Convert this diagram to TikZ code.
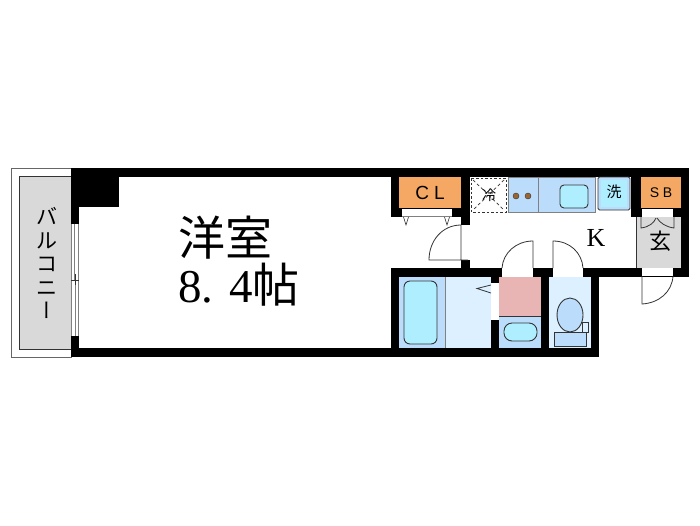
\documentclass[tikz,border=0pt]{standalone}
\usepackage{xcolor}
\usepackage{fontspec}
\setmainfont{Liberation Serif}
\newfontfamily\cjk{Noto Sans CJK JP}
\newfontfamily\cjkv[RawFeature=+vert]{Noto Sans CJK JP}
\newfontfamily\labelfont{Liberation Sans}
\definecolor{closetorange}{HTML}{F5A864}
\definecolor{floorgray}{HTML}{D9D9D9}
\definecolor{wetblue}{HTML}{BBDDFB}
\definecolor{wetpale}{HTML}{DDF0FF}
\definecolor{fixcyan}{HTML}{AEEEFF}
\definecolor{washpink}{HTML}{E8B4B4}
\definecolor{linegray}{HTML}{333333}
\tikzset{
    wall/.style={fill=black, draw=none},
    gap/.style={fill=white, draw=none},
    fixture/.style={draw=linegray, line width=0.9pt},
    doorline/.style={draw=linegray, line width=0.8pt},
    thinline/.style={draw=gray, line width=0.5pt},
}
\begin{document}
\begin{tikzpicture}[x=1pt, y=-1pt]
    \useasboundingbox (0,0) rectangle (700,525);
    \fill[white] (0,0) rectangle (700,525);

    % Balcony
    \draw[thinline, draw=gray!80!black, line width=0.8pt] (11,168) rectangle (71,357);
    \draw[fill=floorgray, draw=linegray, line width=0.7pt] (19,176) rectangle (71,349);
    \node[font=\cjk\fontsize{21}{23.5}\selectfont, align=center, inner sep=0pt] (balcony) at (47,263)
        {バ\\ル\\コ\\ニ\\{\cjkv ー}};

    % Entrance floor and wet areas
    \fill[floorgray] (636,217) rectangle (681,268);
    \draw[thinline, draw=linegray] (636,217) -- (636,268);
    \fill[wetblue] (399,277) rectangle (445,348);
    \fill[wetpale] (445,277) rectangle (491,348);
    \draw[thinline] (445,277) -- (445,348);
    \fill[washpink] (499,277) rectangle (541,316);
    \fill[wetblue] (499,316) rectangle (541,348);
    \draw[fixture, line width=0.6pt] (499,316) -- (541,316);
    \fill[wetpale] (549,277) rectangle (591,348);

    % Walls
    \fill[wall] (71,168) rectangle (689,177);
    \fill[wall] (71,168) rectangle (119,207);
    \fill[wall] (71,168) rectangle (79,357);
    \fill[wall] (71,348) rectangle (599,357);
    \fill[wall] (391,168) rectangle (399,217);
    \fill[wall] (391,208) rectangle (470,217);
    \fill[wall] (461,168) rectangle (470,268);
    \fill[wall] (391,268) rectangle (399,357);
    \fill[wall] (391,268) rectangle (689,277);
    \fill[wall] (491,268) rectangle (499,357);
    \fill[wall] (541,268) rectangle (549,357);
    \fill[wall] (591,268) rectangle (599,357);
    \fill[wall] (631,168) rectangle (641,217);
    \fill[wall] (631,208) rectangle (689,217);
    \fill[wall] (681,168) rectangle (689,276);
    \fill[wall] (631,268) rectangle (689,276);
    \fill[white] (599,277) rectangle (689,290);
    \fill[wall] (599,268) rectangle (610,277);

    % Openings
    \fill[gap] (402,209) rectangle (452,216);
    \fill[gap] (461,225) rectangle (470,260);
    \fill[gap] (502,268) rectangle (533,277);
    \fill[gap] (553,268) rectangle (583,277);
    \fill[gap] (642,209) rectangle (673,217);
    \fill[gap] (642,268) rectangle (673,276);
    \fill[gap] (491,283) rectangle (499,320);
    \fill[gap] (71,224) rectangle (79,336);

    % Window
    \draw[thinline] (71,224) -- (71,336);
    \draw[thinline] (74,224) -- (74,280);
    \draw[thinline] (78,224) -- (78,336);
    \draw[thinline] (75,280) -- (75,336);
    \draw[thinline, draw=linegray] (71,280) -- (79,280);
    \draw[thinline, draw=linegray] (75,274) -- (75,285);

    % Closets
    \fill[closetorange] (399,177) rectangle (461,208);
    \fill[closetorange] (641,177) rectangle (681,208);
    \node[font=\labelfont\fontsize{19}{19}\selectfont] (cl) at (430,193) {C\hspace{5pt}L};
    \node[font=\labelfont\fontsize{14}{14}\selectfont] (sb) at (661,193) {S\hspace{3.5pt}B};
    \draw[doorline, draw=gray] (402,216.5) -- (452,216.5);
    \foreach \x in {406,447} {
        \draw[doorline, line width=0.6pt, fill=white] (\x-2.5,217) -- (\x,225) -- (\x+2.5,217);
    }

    % Doors
    \draw[doorline] (468,260) -- (429,260) .. controls (429,241) and (442,225) .. (461,225) -- (461,260);
    \draw[doorline] (502,268) .. controls (503,253) and (516,241) .. (533,241) -- (533,268);
    \draw[doorline] (583,268) .. controls (582,253) and (570,241) .. (553,241) -- (553,268);
    \draw[doorline] (642,276) -- (642,304) .. controls (659,303) and (672,292) .. (673,276);
    \draw[doorline] (641,217) -- (641,228) .. controls (649,227) and (654,223) .. (656,218);
    \draw[doorline] (674,217) -- (674,228) .. controls (666,227) and (660,223) .. (657,218);
    \fill[white] (491,284) rectangle (491.5,319);
    \draw[doorline] (491,285) -- (477,288.5) -- (491,293);

    % Kitchen
    \draw[fill=wetblue, draw=gray, line width=0.5pt] (508,177) rectangle (595,212);
    \draw[thinline] (538,177) -- (538,212);
    \foreach \x in {516,528} {
        \draw[fill=brown!80!black, draw=linegray, line width=0.4pt] (\x,196) circle (3pt);
    }
    \draw[fixture, fill=fixcyan, rounded corners=4pt] (560,185) rectangle (588,208);
    \draw[dashed, draw=linegray, line width=1pt, dash pattern=on 2.5pt off 2pt] (471,178) rectangle (506,212);
    \draw[dashed, draw=linegray, line width=0.7pt, dash pattern=on 3pt off 2.5pt] (473,180) -- (504,210);
    \draw[dashed, draw=linegray, line width=0.7pt, dash pattern=on 3pt off 2.5pt] (504,180) -- (473,210);
    \node[font=\cjk\fontsize{14}{14}\selectfont, inner sep=0pt] (fridge) at (489,195) {冷};
    \draw[draw=linegray, fill=wetblue, line width=0.8pt, rounded corners=1.5pt] (598,177) rectangle (630,210);
    \fill[fixcyan] (601,180) rectangle (627,207);
    \node[font=\cjk\fontsize{15}{15}\selectfont, inner sep=0pt] (washer) at (614,192) {洗};

    % Bath, basin, toilet
    \draw[fixture, fill=fixcyan, rounded corners=6pt] (404,281) rectangle (437,344);
    \draw[fixture, fill=fixcyan, rounded corners=8pt] (504,323) rectangle (537,341);
    \draw[fixture, fill=wetblue] (570,315) ellipse (13pt and 17pt);
    \draw[fixture, fill=wetblue, line width=0.7pt] (554,332) rectangle (586,346);
    \draw[fixture, fill=wetpale, line width=0.7pt] (582,322) rectangle (588,332);

    % Labels
    \node[font=\fontsize{26}{26}\selectfont, inner sep=0pt] (kitchen) at (596,238) {K};
    \node[font=\cjk\fontsize{22}{22}\selectfont, inner sep=0pt] (genkan) at (660,241) {玄};
    \node[font=\fontsize{47}{47}\selectfont, align=left, anchor=west, inner sep=0pt] (room) at (178,261)
        {{\cjk 洋室}\\8. 4{\cjk 帖}};
\end{tikzpicture}
\end{document}
